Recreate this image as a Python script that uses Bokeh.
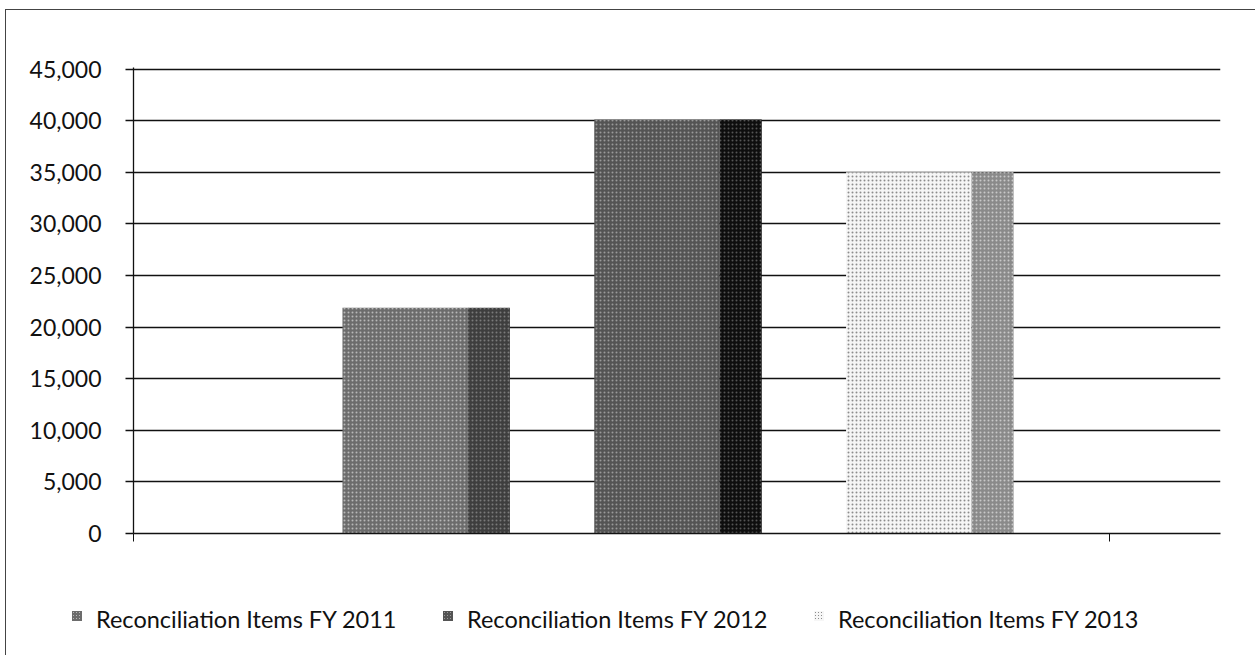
from bokeh.plotting import figure
from bokeh.layouts import column
from bokeh.models import Range1d, NumeralTickFormatter, FixedTicker, Div
from bokeh.embed import file_html
from bokeh.resources import INLINE

# ---- data ----
series = ["Reconciliation Items FY 2011", "Reconciliation Items FY 2012", "Reconciliation Items FY 2013"]
positions = [1, 2, 3]
values = [21870, 40100, 35000]
y_ticks = [0, 5000, 10000, 15000, 20000, 25000, 30000, 35000, 40000, 45000]

# ---- styles ----
front_fill = ["#6c6c6c", "#545454", "#f6f6f6"]
front_hatch = ["#b8b8b8", "#9a9a9a", "#8c8c8c"]
side_fill = ["#3e3e3e", "#0e0e0e", "#8a8a8a"]
side_hatch = ["#7a7a7a", "#555555", "#c8c8c8"]
FRONT_W, SIDE_W = 0.4984, 0.1668
FRONT_OFF, SIDE_OFF = -0.0834, 0.2492
FONT = "Lato"
W = 1246
H1, H2 = 560, 79
X_TICKS = [-0.1625, 3.714]

p = figure(width=W, height=H1, output_backend="svg", toolbar_location=None,
           x_range=Range1d(-0.1625, 4.1545), y_range=Range1d(0, 45150),
           min_border_left=127, min_border_right=32, min_border_top=57, min_border_bottom=37,
           background_fill_color="white", border_fill_color="white")
p.outline_line_color = None

for i in range(3):
    p.vbar(x=[positions[i] + FRONT_OFF], top=[values[i]], bottom=0, width=FRONT_W,
           fill_color=front_fill[i], line_color=None,
           hatch_pattern="dot", hatch_color=front_hatch[i], hatch_scale=4, hatch_weight=1)
    p.vbar(x=[positions[i] + SIDE_OFF], top=[values[i]], bottom=0, width=SIDE_W,
           fill_color=side_fill[i], line_color=None,
           hatch_pattern="dot", hatch_color=side_hatch[i], hatch_scale=4, hatch_weight=1)

# y axis
ya = p.yaxis[0]
ya.ticker = FixedTicker(ticks=y_ticks)
ya.formatter = NumeralTickFormatter(format="0,0")
ya.major_label_text_font = FONT
ya.major_label_text_font_size = "23px"
ya.major_label_text_color = "#111111"
ya.major_tick_in = 0
ya.major_tick_out = 8
ya.minor_tick_out = 0
ya.minor_tick_in = 0
ya.major_label_standoff = 24
ya.axis_line_color = "#111111"
ya.axis_line_width = 1.3
ya.major_tick_line_color = "#111111"
ya.major_tick_line_width = 1.3

# x axis (ticks only, no labels)
xa = p.xaxis[0]
xa.ticker = FixedTicker(ticks=X_TICKS)
xa.major_label_overrides = {t: "" for t in X_TICKS}
xa.major_tick_in = 0
xa.major_tick_out = 8
xa.minor_tick_out = 0
xa.axis_line_color = "#111111"
xa.axis_line_width = 1.3
xa.major_tick_line_color = "#111111"

p.xgrid.grid_line_color = None
p.ygrid.ticker = FixedTicker(ticks=y_ticks[1:])
p.ygrid.grid_line_color = "#111111"
p.ygrid.grid_line_width = 1.4

# ---- legend strip (HTML) ----
marker_left = [61, 432, 803]
parts = []
for i in range(3):
    x0 = marker_left[i]
    parts.append(
        f'<span style="position:absolute;left:{x0}px;top:36px;width:10px;height:10px;'
        f'background-color:{front_fill[i]};'
        f'background-image:radial-gradient({front_hatch[i]} 0.7px, transparent 0.8px);'
        f'background-size:3px 3px;"></span>'
        f'<span style="position:absolute;left:{x0 + 24}px;top:32px;line-height:24px;'
        f'font-family:{FONT};font-size:23.5px;color:#111111;white-space:nowrap;">{series[i]}</span>'
    )
legend_div = Div(text="".join(parts), width=W, height=H2,
                 styles={"position": "relative", "background-color": "white"})

layout = column(p, legend_div, spacing=0)
layout.styles = {"outline": "1px solid #444", "margin-left": "6px", "margin-top": "10px"}

open("out.html", "w").write(file_html(layout, INLINE))
